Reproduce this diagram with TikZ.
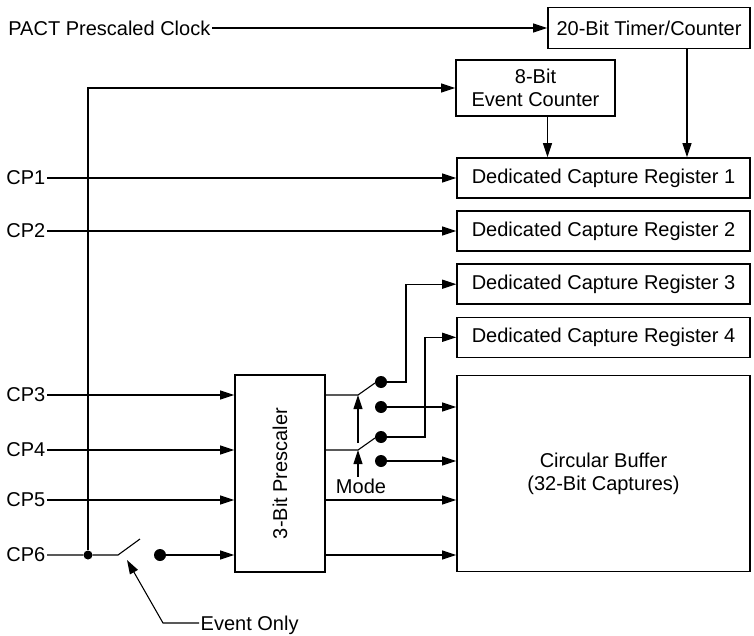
\documentclass[tikz,border=0pt]{standalone}
\usepackage{fontspec}
\setmainfont{Liberation Sans}
\usepackage{tikz}
\usetikzlibrary{arrows.meta,positioning}
\tikzset{
  % blocks
  blk/.style={draw,line width=1.6pt,inner sep=0pt,align=center,font=\fontsize{20}{23}\selectfont},
  reg/.style={blk,minimum width=293pt,minimum height=40pt},
  % pin names and labels
  pinlbl/.style={inner sep=1.5pt,font=\fontsize{20}{23}\selectfont},
  % wires
  wire/.style={line width=1.1pt},
  sig/.style={wire,-{Triangle[length=14pt,width=9pt]}},
  % switch contacts
  contact/.style={circle,fill,inner sep=0pt,minimum size=12pt},
  joint/.style={circle,fill,inner sep=0pt,minimum size=9pt},
}

\begin{document}
\begin{tikzpicture}[x=1pt,y=-1pt]
\useasboundingbox (0,0) rectangle (754,636);

%% ---- top blocks ----
\node[blk,minimum width=202pt,minimum height=41pt] (timer) at (649,28) {20-Bit Timer/Counter};
\node[blk,minimum width=159pt,minimum height=56pt] (evcnt) at (535.5,88) {8-Bit\\Event Counter};

%% ---- capture registers and buffer ----
\node[reg] (reg1) at (603.5,178) {Dedicated Capture Register 1};
\node[reg,below=11.5pt of reg1] (reg2) {Dedicated Capture Register 2};
\node[reg,below=11.5pt of reg2] (reg3) {Dedicated Capture Register 3};
\node[reg,below=11.5pt of reg3] (reg4) {Dedicated Capture Register 4};
\node[blk,minimum width=293pt,minimum height=196pt,below=16.5pt of reg4] (buf)
  {Circular Buffer\\(32-Bit Captures)};

%% ---- prescaler ----
\node[blk,minimum width=90pt,minimum height=197pt] (pre) at (280,473.5) {};
\node[pinlbl,rotate=90] (pretxt) at (pre) {3-Bit Prescaler};

%% ---- inputs ----
\node[pinlbl,anchor=east] (pact) at (212,28) {PACT Prescaled Clock};
\node[pinlbl,anchor=east] (cp1) at (47,178) {CP1};
\node[pinlbl,anchor=east] (cp2) at (47,231) {CP2};
\node[pinlbl,anchor=east] (cp3) at (47,395) {CP3};
\node[pinlbl,anchor=east] (cp4) at (47,450) {CP4};
\node[pinlbl,anchor=east] (cp5) at (47,500) {CP5};
\node[pinlbl,anchor=east] (cp6) at (47,555) {CP6};

\draw[sig] (pact) -- (pact -| timer.west);
\draw[sig] (cp1) -- (cp1 -| reg1.west);
\draw[sig] (cp2) -- (cp2 -| reg2.west);
\draw[sig] (cp3) -- (cp3 -| pre.west);
\draw[sig] (cp4) -- (cp4 -| pre.west);
\draw[sig] (cp5) -- (cp5 -| pre.west);

%% ---- counters into register 1 ----
\draw[sig] ([xshift=12pt]evcnt.south) -- ([xshift=12pt]evcnt.south |- reg1.north);
\draw[sig] ([xshift=38pt]timer.south) -- ([xshift=38pt]timer.south |- reg1.north);

%% ---- CP6 event switch ----
\node[joint] (jn) at (88,555) {};
\coordinate (sw6) at (118,555);
\node[contact] (ct6) at (160,555) {};
\draw[wire] (cp6) -- (jn) -- (sw6) -- ++(22,-16);
\draw[sig] (jn) |- (evcnt.west);
\draw[sig] (ct6) -- (ct6 -| pre.west);

\node[pinlbl,anchor=base west] (evonly) at (199,630) {Event Only};
\coordinate (evtip) at (127,560);
\draw[sig] ([yshift=7pt]evonly.base west) -- ++(-36,0) -- (evtip);

%% ---- mode switches ----
\coordinate (pa) at (358,395);
\node[contact] (ca1) at (381,382) {};
\node[contact] (ca2) at (381,407) {};
\coordinate (pb) at (358,450);
\node[contact] (cb1) at (381,437) {};
\node[contact] (cb2) at (381,461) {};
\coordinate (ja) at (406,382);
\coordinate (jb) at (425,437);

\draw[wire] (pa -| pre.east) -- (pa) -- ++(17,-12);
\draw[wire] (pb -| pre.east) -- (pb) -- ++(17,-12);
\draw[sig] (ca1) -- (ja) |- (reg3.west);
\draw[sig] (cb1) -- (jb) |- (reg4.west);
\draw[sig] (ca2) -- (ca2 -| buf.west);
\draw[sig] (cb2) -- (cb2 -| buf.west);

\node[pinlbl] (mode) at (361,486) {Mode};
\coordinate (pbm) at (358,443);
\draw[sig] (mode.north -| pb) -- (pb);
\draw[sig] (pbm) -- (pa);

%% ---- direct outputs ----
\draw[sig] (cp5 -| pre.east) -- (cp5 -| buf.west);
\draw[sig] (cp6 -| pre.east) -- (cp6 -| buf.west);
\end{tikzpicture}
\end{document}
